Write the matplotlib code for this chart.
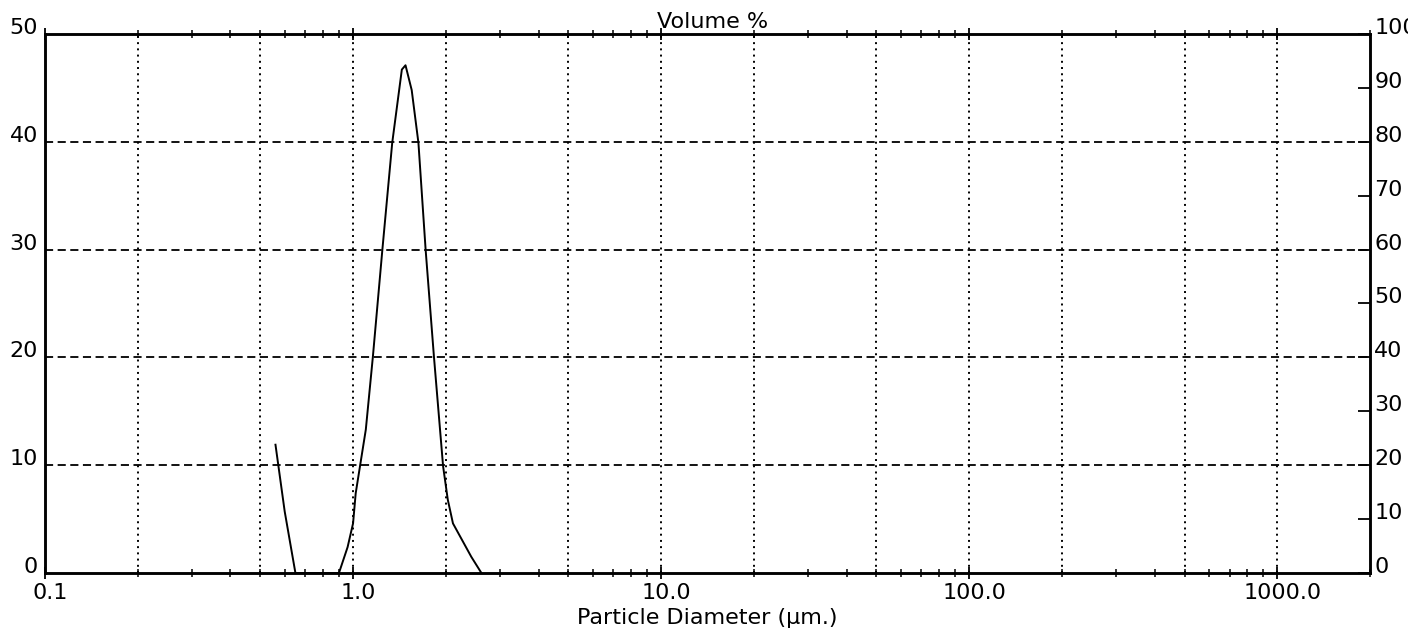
import matplotlib
matplotlib.use("Agg")
import matplotlib.pyplot as plt
from matplotlib.ticker import FixedLocator, NullFormatter
from matplotlib.transforms import Bbox, ScaledTranslation

# ---- data ----
diameter_um = [0.56, 0.60, 0.65, 0.90, 0.96, 1.00, 1.02, 1.10, 1.16, 1.245, 1.34,
               1.44, 1.48, 1.55, 1.63, 1.72, 1.83, 1.96, 2.03, 2.11, 2.42, 2.61]
volume_pct = [11.9, 5.7, 0.0, 0.0, 2.4, 4.6, 7.4, 13.3, 20.1, 30.0, 39.9,
              46.7, 47.1, 44.8, 39.9, 30.0, 20.1, 9.9, 6.8, 4.6, 1.5, 0.0]

x_major = [0.1, 1.0, 10.0, 100.0, 1000.0]
x_major_labels = ["0.1", "1.0", "10.0", "100.0", "1000.0"]
x_grid = [0.2, 0.5, 1, 2, 5, 10, 20, 50, 100, 200, 500, 1000]
x_minor = [m * d for d in [0.1, 1, 10, 100, 1000] for m in range(2, 10)]
y_left_ticks = [0, 10, 20, 30, 40, 50]
y_grid = [10, 20, 30, 40]
y_right_ticks = [0, 10, 20, 30, 40, 50, 60, 70, 80, 90, 100]

plt.rcParams['font.family'] = ['DejaVu Sans']
FS = 16

fig = plt.figure(figsize=(14.28, 6.39), dpi=100)
ax = fig.add_axes([0.0315, 0.1033, 0.9279, 0.8435])

ax.set_xscale('log')
ax.set_xlim(0.1, 2000)
ax.set_ylim(0, 50)

for g in x_grid:
    ax.axvline(g, color='black', lw=1.4, linestyle=(0, (1, 2.2)), zorder=1)
for g in y_grid:
    ax.axhline(g, color='black', lw=1.3, linestyle=(0, (4.5, 2.5)), zorder=1)

ax.plot(diameter_um, volume_pct, color='black', lw=1.4, zorder=3)

ax.xaxis.set_major_locator(FixedLocator(x_major))
ax.set_xticklabels(x_major_labels, fontsize=FS)
ax.xaxis.set_minor_locator(FixedLocator(x_minor))
ax.xaxis.set_minor_formatter(NullFormatter())
ax.tick_params(axis='x', which='major', direction='inout', length=9, width=1.3,
               top=True, pad=3)
ax.tick_params(axis='x', which='minor', direction='inout', length=6, width=1.1,
               top=True)
shift = ScaledTranslation(5 / 100, 0, fig.dpi_scale_trans)
for t in ax.get_xticklabels():
    t.set_transform(t.get_transform() + shift)

ax.set_yticks(y_left_ticks)
ax.tick_params(axis='y', which='both', length=0, pad=5, labelsize=FS)
for t in ax.get_yticklabels():
    t.set_va('baseline')

for s in ax.spines.values():
    s.set_linewidth(1.8)

ax.set_title('Volume %', fontsize=FS, pad=4, x=0.504)
ax.set_xlabel('Particle Diameter (µm.)', fontsize=FS, labelpad=3)

ax2 = ax.twinx()
ax2.set_ylim(0, 100)
ax2.set_yticks(y_right_ticks)
ax2.tick_params(axis='y', direction='in', length=9, width=1.3, pad=3, labelsize=FS)
clip = Bbox.from_extents(0, 0, 1408, 639)
for t in ax2.get_yticklabels():
    t.set_va('baseline')
    t.set_clip_box(clip)
    t.set_clip_on(True)
for s in ax2.spines.values():
    s.set_linewidth(1.8)

fig.savefig('out.png', dpi=100)
